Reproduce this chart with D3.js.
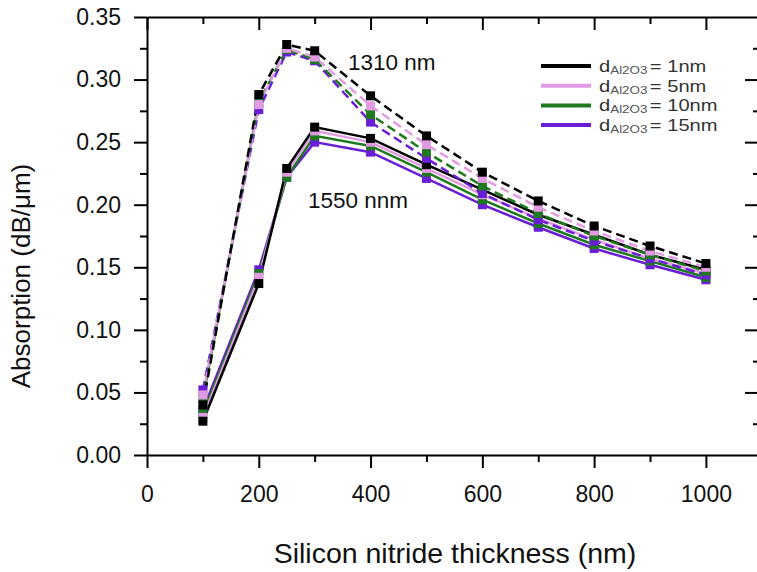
<!DOCTYPE html>
<html><head><meta charset="utf-8">
<script src="https://cdn.jsdelivr.net/npm/d3@7"></script>
<style>
html,body{margin:0;padding:0;background:#fff;}
svg{display:block;font-family:"Liberation Sans",Arial,sans-serif;}
</style></head>
<body><svg id="c" width="757" height="572"></svg>
<script>
const thickness = [100, 200, 250, 300, 400, 500, 600, 700, 800, 900, 1000];
const seriesNames = ["1nm", "5nm", "10nm", "15nm"];
const seriesColors = ["#000000", "#e29be2", "#1f7a1f", "#6a1fd6"];
// 1310 nm (dashed)
const abs1310_d1  = [0.040, 0.288, 0.328, 0.323, 0.287, 0.255, 0.226, 0.203, 0.183, 0.167, 0.153];
const abs1310_d5  = [0.048, 0.280, 0.325, 0.318, 0.279, 0.248, 0.221, 0.198, 0.179, 0.163, 0.150];
const abs1310_d10 = [0.045, 0.282, 0.324, 0.316, 0.272, 0.242, 0.215, 0.193, 0.175, 0.160, 0.147];
const abs1310_d15 = [0.052, 0.276, 0.322, 0.315, 0.266, 0.237, 0.209, 0.188, 0.171, 0.157, 0.144];
// 1550 nm (solid)
const abs1550_d1  = [0.027, 0.137, 0.229, 0.262, 0.253, 0.232, 0.212, 0.192, 0.176, 0.160, 0.148];
const abs1550_d5  = [0.030, 0.142, 0.226, 0.259, 0.250, 0.229, 0.208, 0.189, 0.172, 0.157, 0.145];
const abs1550_d10 = [0.033, 0.145, 0.222, 0.255, 0.247, 0.226, 0.204, 0.185, 0.168, 0.155, 0.142];
const abs1550_d15 = [0.036, 0.148, 0.222, 0.250, 0.242, 0.221, 0.200, 0.182, 0.165, 0.152, 0.140];
const xMajorTicks = [0, 200, 400, 600, 800, 1000];
const xMinorTicks = [100, 300, 500, 700, 900];
const yMajorTicks = [0, 0.05, 0.10, 0.15, 0.20, 0.25, 0.30, 0.35];
const yMinorTicks = [0.025, 0.075, 0.125, 0.175, 0.225, 0.275, 0.325];

const dashed = [abs1310_d1, abs1310_d5, abs1310_d10, abs1310_d15];
const solid = [abs1550_d1, abs1550_d5, abs1550_d10, abs1550_d15];

const svg = d3.select("#c");
const L = 147, R = 759, T = 17, B = 455;
const x = d3.scaleLinear().domain([0, 1095]).range([L, R]);
const y = d3.scaleLinear().domain([0, 0.35]).range([B, T]);

const axisStyle = g => {
  g.selectAll("path.domain").attr("stroke", "#000").attr("stroke-width", 2);
  g.selectAll(".tick line").attr("stroke", "#000").attr("stroke-width", 2);
};
// bottom
const gb = svg.append("g").attr("transform", `translate(0,${B})`)
  .call(d3.axisBottom(x).tickValues(xMajorTicks).tickSize(13).tickSizeOuter(0).tickPadding(18).tickFormat(d3.format("d")));
gb.call(axisStyle);
gb.selectAll("text").attr("font-size", 23).attr("fill", "#111");
svg.append("g").attr("transform", `translate(0,${B})`)
  .call(d3.axisBottom(x).tickValues(xMinorTicks).tickSize(7).tickFormat(""))
  .call(g=>g.select(".domain").remove()).call(axisStyle);
// top
svg.append("g").attr("transform", `translate(0,${T})`)
  .call(d3.axisBottom(x).tickValues(xMajorTicks).tickSize(13).tickSizeOuter(0).tickFormat("")).call(axisStyle);
svg.append("g").attr("transform", `translate(0,${T})`)
  .call(d3.axisBottom(x).tickValues(xMinorTicks).tickSize(7).tickFormat(""))
  .call(g=>g.select(".domain").remove()).call(axisStyle);
// left
const gl = svg.append("g").attr("transform", `translate(${L},0)`)
  .call(d3.axisLeft(y).tickValues(yMajorTicks).tickSize(13).tickSizeOuter(0).tickPadding(13).tickFormat(d3.format(".2f")));
gl.call(axisStyle);
gl.selectAll("text").attr("font-size", 23).attr("fill", "#111");
svg.append("g").attr("transform", `translate(${L},0)`)
  .call(d3.axisLeft(y).tickValues(yMinorTicks).tickSize(7).tickFormat(""))
  .call(g=>g.select(".domain").remove()).call(axisStyle);
// right
svg.append("g").attr("transform", `translate(${R},0)`)
  .call(d3.axisRight(y).tickValues(yMajorTicks.filter(v=>v>0 && v<0.35)).tickSize(-14).tickFormat(""))
  .call(g=>g.select(".domain").remove()).call(axisStyle);
svg.append("g").attr("transform", `translate(${R},0)`)
  .call(d3.axisRight(y).tickValues(yMinorTicks).tickSize(-6).tickFormat(""))
  .call(g=>g.select(".domain").remove()).call(axisStyle);

// axis titles
svg.append("text").attr("x", 455).attr("y", 563).attr("text-anchor", "middle")
  .attr("font-size", 28.5).attr("fill", "#111").text("Silicon nitride thickness (nm)");
svg.append("text").attr("transform", "translate(30,276) rotate(-90)").attr("text-anchor", "middle")
  .attr("font-size", 26).attr("fill", "#111").text("Absorption (dB/\u03bcm)");

const line = d3.line().x((d, i) => x(thickness[i])).y(d => y(d));
const plot = svg.append("g");
function drawSeries(arr, color, dash) {
  plot.append("path").datum(arr).attr("d", line).attr("fill", "none")
    .attr("stroke", color).attr("stroke-width", 2.5)
    .attr("stroke-dasharray", dash ? "9,5" : null);
}
function drawMarkers(arr, color) {
  plot.append("g").selectAll("rect").data(arr).join("rect")
    .attr("x", (d, i) => x(thickness[i]) - 4.5).attr("y", d => y(d) - 4.5)
    .attr("width", 9).attr("height", 9).attr("fill", color);
}
for (let k = 3; k >= 0; k--) drawSeries(solid[k], seriesColors[k], false);
for (let k = 3; k >= 0; k--) drawSeries(dashed[k], seriesColors[k], true);
for (let k = 3; k >= 0; k--) drawMarkers(solid[k], seriesColors[k]);
for (let k = 3; k >= 0; k--) drawMarkers(dashed[k], seriesColors[k]);

// annotations
svg.append("text").attr("x", 348).attr("y", 70).attr("font-size", 22.5).attr("fill", "#111").text("1310 nm");
svg.append("text").attr("x", 308).attr("y", 208).attr("font-size", 22.5).attr("fill", "#111").text("1550 nnm");

// legend
const lg = svg.append("g");
seriesNames.forEach((n, i) => {
  const yy = 66 + i * 19.7;
  lg.append("line").attr("x1", 541).attr("x2", 591).attr("y1", yy).attr("y2", yy)
    .attr("stroke", seriesColors[i]).attr("stroke-width", 4);
  const t = lg.append("text").attr("transform", `translate(599,${yy + 6}) scale(1.22,1)`)
    .attr("font-size", 16.5).attr("fill", "#333");
  t.append("tspan").text("d");
  t.append("tspan").attr("font-size", 11).attr("dy", 2).attr("fill", "#555").text("Al2O3");
  t.append("tspan").attr("dy", -2).attr("dx", 2).text("= " + n);
});
</script></body></html>
